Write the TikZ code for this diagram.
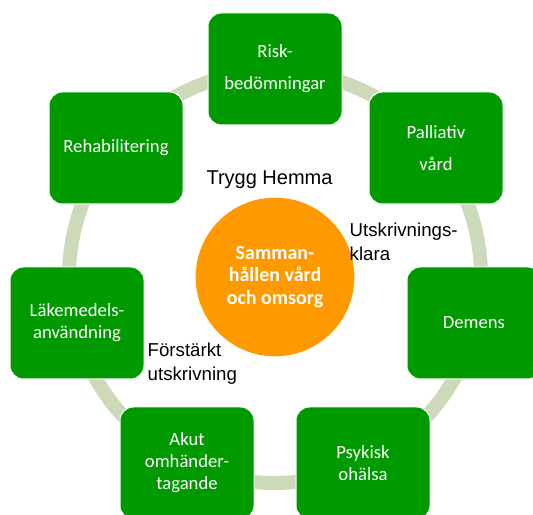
\documentclass[tikz,border=0pt]{standalone}
\usepackage{fontspec}
\usepackage{tikz}
\usepackage{xcolor}
\setmainfont{Carlito}
\newfontfamily\arialfont{Liberation Sans}
\definecolor{verde}{RGB}{0,153,0}
\definecolor{naranja}{RGB}{255,153,0}
\definecolor{salvia}{RGB}{204,218,186}

\begin{document}
\begin{tikzpicture} %Cirkel
  [x=0.75pt, y=0.75pt,
    % Definimos los estilos para no repetir código
    ruta/.style={rectangle, rounded corners=10pt, draw=white, line width=0.75pt, fill=verde, text=white,
      minimum width=100.5pt, minimum height=84pt, align=center, font=\fontsize{14}{16.5}\selectfont},
    mitt/.style={circle, fill=naranja, text=white, minimum size=119pt, inner sep=0pt, align=center,
      font=\bfseries\fontsize{15}{17}\selectfont},
    etikett/.style={align=left, text=black, font=\arialfont\fontsize{14}{18}\selectfont}
  ]
  \useasboundingbox (0,0) rectangle (533,515);
  \node[mitt] (m) at (275,238) {Samman-\\hållen vård\\och omsorg};
  \draw[salvia, line width=10.5pt] (m.center) circle (154.5pt);
  \node[ruta] (r1) at (275,446) {Risk-\\[7.5pt]bedömningar};
  \node[ruta] (r2) at (436,367) {Palliativ\\[7.5pt]vård};
  \node[ruta] (r3) at (474,192) {Demens};
  \node[ruta] (r4) at (363,52) {Psykisk\\ohälsa};
  \node[ruta] (r5) at (187,52) {Akut\\omhänder-\\tagande};
  \node[ruta] (r6) at (77,192) {Läkemedels-\\användning};
  \node[ruta] (r7) at (116,367) {Rehabilitering};
  \node[etikett, font=\arialfont\fontsize{15}{18}\selectfont] (t1) at (269.5,335) {Trygg Hemma};
  \node[etikett, anchor=west] (t2) at (345,273) {Utskrivnings-\\klara};
  \node[etikett, anchor=west] (t3) at (143,151) {Förstärkt\\utskrivning};

\end{tikzpicture}
\end{document}
